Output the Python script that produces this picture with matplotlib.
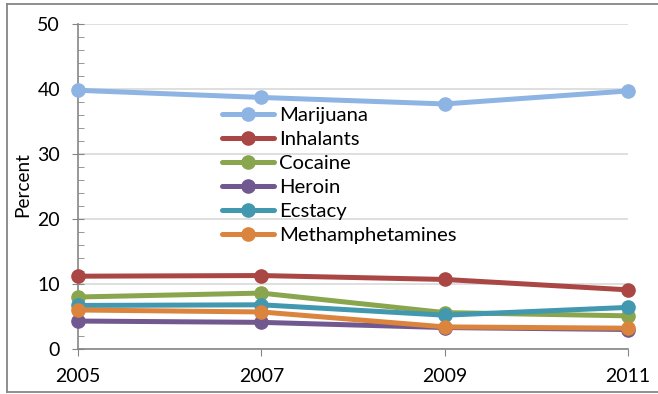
import matplotlib
matplotlib.use("Agg")
import matplotlib.pyplot as plt
from matplotlib.lines import Line2D
from matplotlib.ticker import MultipleLocator

years = ["2005", "2007", "2009", "2011"]
marijuana = [39.8, 38.7, 37.7, 39.7]
inhalants = [11.2, 11.3, 10.7, 9.1]
cocaine = [8.0, 8.6, 5.6, 5.1]
heroin = [4.3, 4.1, 3.3, 3.0]
ecstacy = [6.7, 6.8, 5.2, 6.4]
meth = [6.0, 5.7, 3.4, 3.2]

series = [
    ("Marijuana", marijuana, "#8EB4E3"),
    ("Inhalants", inhalants, "#AA4643"),
    ("Cocaine", cocaine, "#89A54E"),
    ("Heroin", heroin, "#71588F"),
    ("Ecstacy", ecstacy, "#4198AF"),
    ("Methamphetamines", meth, "#DB843D"),
]

plt.rcParams['font.family'] = ['Lato', 'DejaVu Sans']

W, H = 658, 394
fig = plt.figure(figsize=(W / 100, H / 100), dpi=100)
ax = fig.add_axes([78 / W, 1 - 349 / H, (628 - 78) / W, (349 - 24) / H])

x = list(range(len(years)))
for name, vals, col in series:
    ax.plot(x, vals, color=col, lw=3.6, marker='o', ms=9.5, label=name,
            solid_capstyle='round', zorder=3, clip_on=False)

ax.set_xlim(0, len(years) - 1)
ax.set_ylim(0, 50)
ax.set_xticks(x)
ax.set_xticklabels(years)
ax.yaxis.set_major_locator(MultipleLocator(10))
ax.yaxis.set_minor_locator(MultipleLocator(2))
ax.grid(axis='y', which='major', color='#D9D9D9', lw=1.2, zorder=0)
ax.set_axisbelow(True)

for s in ['top', 'right']:
    ax.spines[s].set_visible(False)
for s in ['left', 'bottom']:
    ax.spines[s].set_color('#868686')
    ax.spines[s].set_linewidth(1.2)

ax.tick_params(axis='y', which='major', direction='inout', length=8, color='#868686',
               labelsize=14, pad=9, labelcolor='black')
ax.tick_params(axis='y', which='minor', direction='in', length=4, color='#868686')
ax.tick_params(axis='x', which='major', direction='out', length=5, color='#868686',
               labelsize=14, pad=9, labelcolor='black')

ax.set_ylabel("Percent", fontsize=13.7)
ax.yaxis.set_label_coords(31 / W, 1 - 185 / H, transform=fig.transFigure)

leg = ax.legend(loc='upper left', bbox_to_anchor=(222 / W, 1 - 107 / H),
                bbox_transform=fig.transFigure, frameon=False, fontsize=14.6,
                handlelength=2.55, handletextpad=0.25, labelspacing=0.33,
                borderpad=0, borderaxespad=0)

bc = '#868686'
fig.add_artist(Line2D([7 / W, 7 / W], [1 - 392 / H, 1 - 4 / H], transform=fig.transFigure,
                      color=bc, lw=1.3))
fig.add_artist(Line2D([7 / W, 1.0], [1 - 4 / H, 1 - 4 / H], transform=fig.transFigure,
                      color=bc, lw=1.3))
fig.add_artist(Line2D([7 / W, 1.0], [1 - 392 / H, 1 - 392 / H], transform=fig.transFigure,
                      color=bc, lw=1.3))

fig.savefig("out.png", dpi=100)
